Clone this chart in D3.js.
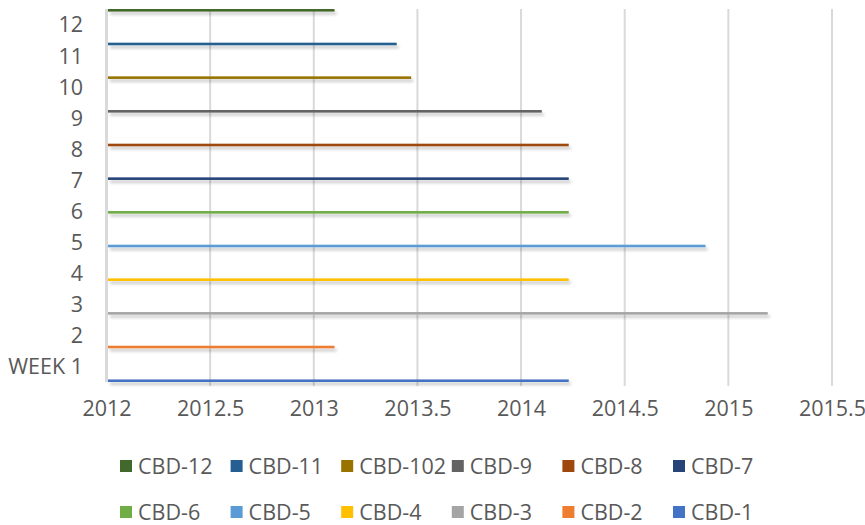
<!DOCTYPE html>
<html>
<head>
<meta charset="utf-8">
<script src="https://cdn.jsdelivr.net/npm/d3@7"></script>
<style>
  body { margin: 0; background: #fff; }
  svg { font-family: "Open Sans", "Liberation Sans", Arial, sans-serif; }
</style>
</head>
<body>
<svg id="chart"></svg>
<script>
// categories (bottom to top)
const weeks = ["WEEK 1", "2", "3", "4", "5", "6", "7", "8", "9", "10", "11", "12"];
// series names, in plotting order
const seriesNames = ["CBD-1", "CBD-2", "CBD-3", "CBD-4", "CBD-5", "CBD-6",
                     "CBD-7", "CBD-8", "CBD-9", "CBD-102", "CBD-11", "CBD-12"];
// each series only has a value in its own week
const seriesValues = [2014.23, 2013.10, 2015.19, 2014.23, 2014.89, 2014.23,
                      2014.23, 2014.23, 2014.10, 2013.47, 2013.40, 2013.10];
const seriesColors = ["#4472C4", "#ED7D31", "#A5A5A5", "#FFC000", "#5B9BD5", "#70AD47",
                      "#264478", "#9E480E", "#636363", "#997300", "#255E91", "#43682B"];
const xTicks = [2012, 2012.5, 2013, 2013.5, 2014, 2014.5, 2015, 2015.5];

const width = 865, height = 525;
const plot = { left: 106.5, right: 832, top: 9, bottom: 382 };
const textColor = "#595959";
const fontSize = 21.5;
const fontFamily = "Open Sans, Liberation Sans, Arial, sans-serif";

const svg = d3.select("#chart")
  .attr("width", width)
  .attr("height", height)
  .attr("viewBox", [0, 0, width, height]);

const defs = svg.append("defs");
defs.append("filter")
  .attr("id", "shadow")
  .attr("x", "-5%").attr("y", "-200%")
  .attr("width", "110%").attr("height", "500%")
  .append("feDropShadow")
    .attr("dx", 2).attr("dy", 3)
    .attr("stdDeviation", 1.8)
    .attr("flood-color", "#000")
    .attr("flood-opacity", 0.22);

const x = d3.scaleLinear()
  .domain([2012, 2015.5])
  .range([plot.left, plot.right]);

const y = d3.scaleBand()
  .domain(weeks.slice().reverse())
  .range([plot.top, plot.bottom])
  .padding(0);

// series slots inside a week band, first series at the bottom
const ySeries = d3.scaleBand()
  .domain(seriesNames.slice().reverse())
  .range([0, y.bandwidth()])
  .padding(0);

const color = d3.scaleOrdinal().domain(seriesNames).range(seriesColors);

// gridlines
svg.append("g")
  .selectAll("line")
  .data(xTicks.slice(1))
  .join("line")
    .attr("x1", d => x(d)).attr("x2", d => x(d))
    .attr("y1", plot.top).attr("y2", plot.bottom + 4)
    .attr("stroke", "#d9d9d9")
    .attr("stroke-width", 2);

// left axis line
svg.append("line")
  .attr("x1", plot.left).attr("x2", plot.left)
  .attr("y1", plot.top).attr("y2", plot.bottom)
  .attr("stroke", "#d9d9d9")
  .attr("stroke-width", 3);

// x axis labels
const xAxis = d3.axisBottom(x)
  .tickValues(xTicks)
  .tickFormat(d3.format(""))
  .tickSize(0)
  .tickPadding(0);
svg.append("g")
  .attr("transform", `translate(0, 401)`)
  .call(xAxis)
  .call(g => g.select(".domain").remove())
  .call(g => g.selectAll("text")
    .attr("dy", "0.71em")
    .attr("fill", textColor)
    .attr("font-size", fontSize)
    .attr("font-family", fontFamily));

// y axis labels
const yAxis = d3.axisLeft(y).tickSize(0).tickPadding(0);
svg.append("g")
  .attr("transform", `translate(83, 1)`)
  .call(yAxis)
  .call(g => g.select(".domain").remove())
  .call(g => g.selectAll("text")
    .attr("fill", textColor)
    .attr("font-size", fontSize)
    .attr("font-family", fontFamily));

// bars
svg.append("g")
  .selectAll("rect")
  .data(seriesNames.map((name, i) => ({ name, week: weeks[i], value: seriesValues[i] })))
  .join("rect")
    .attr("x", x(2012) + 1.5)
    .attr("y", d => y(d.week) + ySeries(d.name))
    .attr("width", d => x(d.value) - x(2012) - 1.5)
    .attr("height", ySeries.bandwidth())
    .attr("fill", d => color(d.name))
    .attr("filter", "url(#shadow)");

// legend (reverse series order, two rows of six)
const legendNames = seriesNames.slice().reverse();
const legend = svg.append("g")
  .selectAll("g")
  .data(legendNames)
  .join("g")
    .attr("transform", (d, i) => `translate(${120 + (i % 6) * 110.6}, ${466 + Math.floor(i / 6) * 46})`);
legend.append("rect")
  .attr("x", 0).attr("y", -6)
  .attr("width", 12).attr("height", 12)
  .attr("fill", d => color(d));
legend.append("text")
  .attr("x", 18)
  .attr("dy", "0.35em")
  .attr("fill", textColor)
  .attr("font-size", fontSize)
  .attr("font-family", fontFamily)
  .text(d => d);
</script>
</body>
</html>
